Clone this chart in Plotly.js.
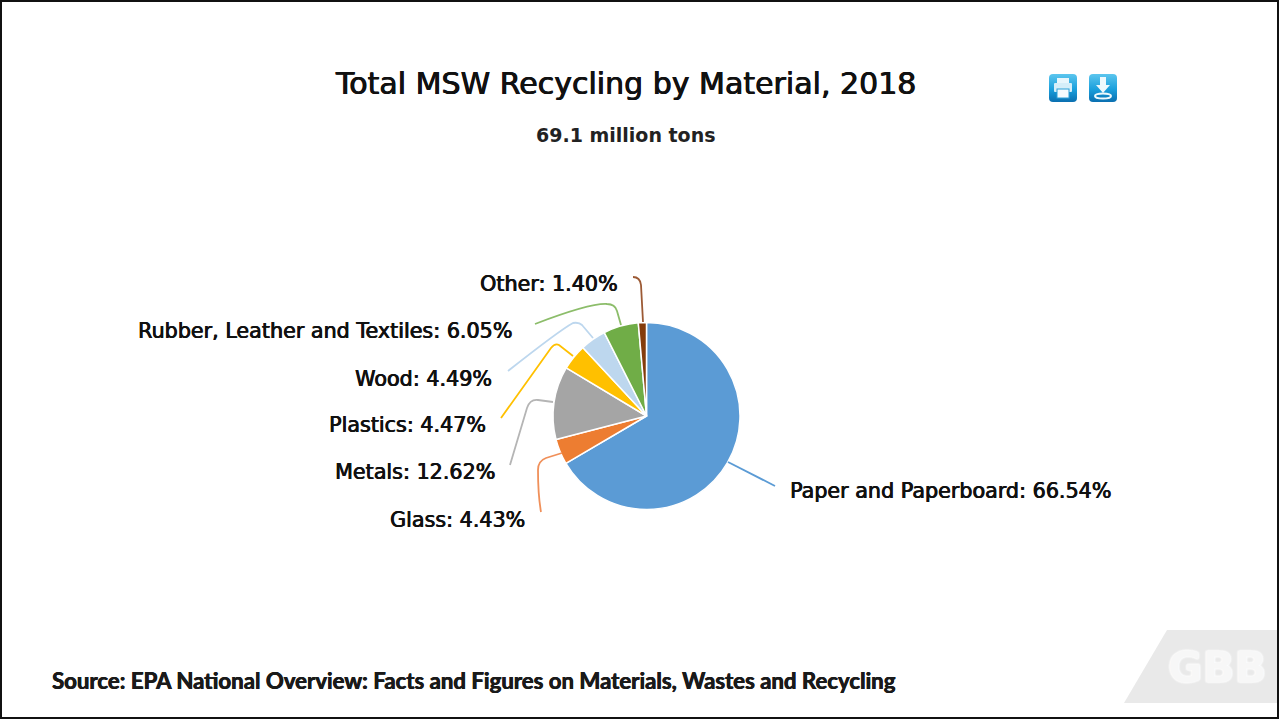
<!DOCTYPE html>
<html>
<head>
<meta charset="utf-8">
<script src="https://cdn.plot.ly/plotly-3.0.1.min.js"></script>
<style>html,body{margin:0;padding:0;background:#fff;overflow:hidden}#chart{width:1279px;height:719px}</style>
</head>
<body>
<div id="chart"></div>
<script>
const materials = ["Paper and Paperboard","Glass","Metals","Plastics","Wood","Rubber, Leather and Textiles","Other"];
const shares = [66.54,4.43,12.62,4.47,4.49,6.05,1.40];
const sliceColors = ["#5B9BD5","#ED7D31","#A5A5A5","#FFC000","#BDD7EE","#70AD47","#843C0C"];
const lineColors = ["#5B9BD5","#F0905A","#B5B5B5","#FFC000","#BDD7EE","#8CBD6A","#9C5A35"];
const titleText = "Total MSW Recycling by Material, 2018";
const subtitleText = "69.1 million tons";
const sourceText = "Source: EPA National Overview: Facts and Figures on Materials, Wastes and Recycling";
const logoText = "GBB";

const W = 1279, H = 719;
const fx = x => x / W, fy = y => 1 - y / H;
const cx = 646.5, cy = 416, r = 93.5;

// label anchor (page px) for each material
const labelPos = [[788,491],[388,520],[333,472],[327,425],[353,379],[136,331],[478,284]];
// leader-line paths in page px
const leaders = [
 "M728,462 L775,486",
 "M562,453 L546,458 Q538,461 538,470 Q538,495 541,512",
 "M553,402 L538,400 Q530,399 527,408 L510,465",
 "M573,356 L559,345 Q555,343 551,348 L501,418",
 "M593,338 L582,325 Q579,322 573,323 Q560,330 508,371",
 "M621,325 L617,311 Q615,304 607,304 Q590,303 535,324",
 "M643,322 L641,285 Q640,277 633,277"
];

const printIcon = 'data:image/svg+xml;utf8,' + encodeURIComponent(
 '<svg xmlns="http://www.w3.org/2000/svg" width="30" height="30" viewBox="0 0 30 30"><defs><linearGradient id="g" x1="0" y1="0" x2="0" y2="1"><stop offset="0" stop-color="#5cc6ee"/><stop offset="0.55" stop-color="#1a9fdc"/><stop offset="1" stop-color="#0a6fb0"/></linearGradient></defs><rect x="1" y="1" width="28" height="28" rx="4" fill="url(#g)"/><rect x="9" y="5" width="12" height="5" fill="#e8f6fc"/><rect x="6" y="10" width="18" height="9" rx="1" fill="#d5eef9"/><rect x="9" y="16" width="12" height="9" fill="#f4fbfe" stroke="#2a9fd8" stroke-width="1"/></svg>');
const saveIcon = 'data:image/svg+xml;utf8,' + encodeURIComponent(
 '<svg xmlns="http://www.w3.org/2000/svg" width="30" height="30" viewBox="0 0 30 30"><defs><linearGradient id="g" x1="0" y1="0" x2="0" y2="1"><stop offset="0" stop-color="#5cc6ee"/><stop offset="0.55" stop-color="#1a9fdc"/><stop offset="1" stop-color="#0a6fb0"/></linearGradient></defs><rect x="1" y="1" width="28" height="28" rx="4" fill="url(#g)"/><path d="M12 4h6v8h4l-7 8-7-8h4z" fill="#eef9fd"/><ellipse cx="15" cy="23" rx="8" ry="2.6" fill="none" stroke="#eef9fd" stroke-width="2"/></svg>');

const annotations = materials.map((m,i) => ({
  xref:"paper", yref:"paper", x:fx(labelPos[i][0]), y:fy(labelPos[i][1]),
  xanchor:"left", yanchor:"middle", showarrow:false,
  text:`${m}: ${shares[i].toFixed(2)}%`,
  font:{family:"DejaVu Sans", size:20.7, color:"#111", shadow:"0.5px 0 0 #111, -0.3px 0 0 #111"}
}));
annotations.push(
 {xref:"paper",yref:"paper",x:fx(625.5),y:fy(83),xanchor:"center",yanchor:"middle",showarrow:false,text:titleText,
  font:{family:"DejaVu Sans",size:30,color:"#111",shadow:"0.5px 0 0 #111, -0.4px 0 0 #111"}},
 {xref:"paper",yref:"paper",x:fx(625.5),y:fy(135),xanchor:"center",yanchor:"middle",showarrow:false,text:"<b>"+subtitleText+"</b>",
  font:{family:"DejaVu Sans",size:19,color:"#222"}},
 {xref:"paper",yref:"paper",x:fx(50),y:fy(680),xanchor:"left",yanchor:"middle",showarrow:false,text:"<b>"+sourceText+"</b>",
  font:{family:"Lato",size:22.2,color:"#1a1a1a",shadow:"0.4px 0 0 #1a1a1a, -0.3px 0 0 #1a1a1a"}},
 {xref:"paper",yref:"paper",x:fx(1217),y:fy(667),xanchor:"center",yanchor:"middle",showarrow:false,text:"<b>"+logoText+"</b>",
  font:{family:"DejaVu Sans",size:42,color:"#f7f7f7",shadow:"0 0 2px #fff, 0 0 2px #fff, 0 0 3px #fff"}}
);

const shapes = leaders.map((p,i) => ({
  type:"path", xref:"paper", yref:"paper",
  path:p.replace(/(-?\d+(?:\.\d+)?),(-?\d+(?:\.\d+)?)/g,(m,a,b)=>`${fx(+a)},${fy(+b)}`),
  line:{color:lineColors[i],width:1.8}
}));
shapes.push(
 {type:"path",xref:"paper",yref:"paper",layer:"below",
  path:`M${fx(1167)},${fy(630)} L${fx(1279)},${fy(630)} L${fx(1279)},${fy(703)} L${fx(1124)},${fy(703)} Z`,
  fillcolor:"#E9E9E9",line:{width:0}},
 {type:"rect",xref:"paper",yref:"paper",x0:fx(1),x1:fx(1278),y0:fy(1),y1:fy(718),line:{color:"#111",width:2},fillcolor:"rgba(0,0,0,0)"}
);

Plotly.newPlot("chart",[{
  type:"pie",
  labels:materials, values:shares,
  sort:false, direction:"clockwise", rotation:0,
  textinfo:"none", hoverinfo:"label+percent",
  marker:{colors:sliceColors,line:{color:"#fff",width:1.5}},
  domain:{x:[fx(cx-r),fx(cx+r)],y:[fy(cy+r),fy(cy-r)]}
}],{
  width:W,height:H,margin:{l:0,r:0,t:0,b:0},showlegend:false,
  paper_bgcolor:"#fff",
  annotations,shapes,
  images:[
   {source:printIcon,xref:"paper",yref:"paper",x:fx(1048),y:fy(73),sizex:fx(30),sizey:30/H,xanchor:"left",yanchor:"top"},
   {source:saveIcon,xref:"paper",yref:"paper",x:fx(1088),y:fy(73),sizex:fx(30),sizey:30/H,xanchor:"left",yanchor:"top"}
  ]
},{displayModeBar:false,responsive:false});
</script>
</body>
</html>
